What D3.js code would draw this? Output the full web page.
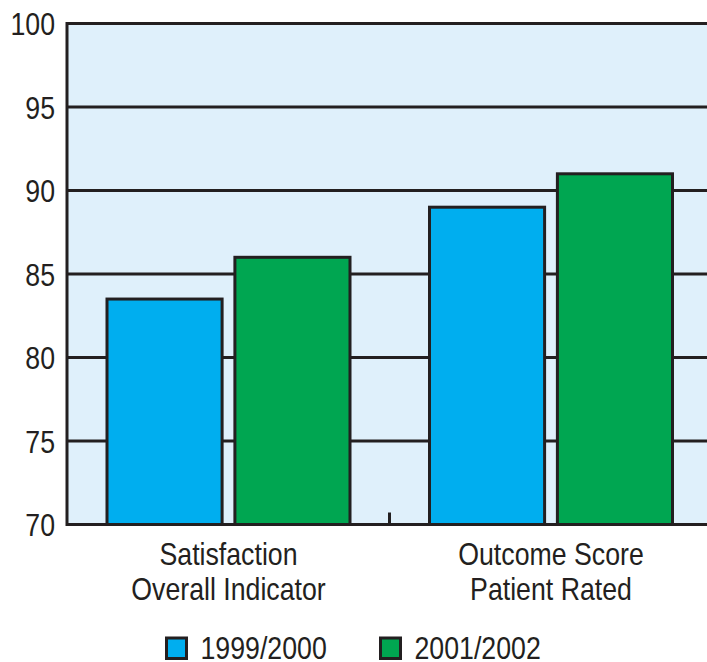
<!DOCTYPE html>
<html>
<head>
<meta charset="utf-8">
<script src="https://cdn.jsdelivr.net/npm/d3@7"></script>
<style>
  html, body { margin: 0; padding: 0; background: #fff; }
  svg { display: block; }
  text { font-family: "Liberation Sans", Arial, sans-serif; fill: #231f20; }
</style>
</head>
<body>
<svg id="chart" width="707" height="662"></svg>
<script>
const categories = [["Satisfaction", "Overall Indicator"], ["Outcome Score", "Patient Rated"]];
const categoryKeys = ["Satisfaction Overall Indicator", "Outcome Score Patient Rated"];
const seriesNames = ["1999/2000", "2001/2002"];
const series1999 = [83.5, 89];
const series2001 = [86, 91];
const yTicks = [70, 75, 80, 85, 90, 95, 100];
const colors = ["#00aeef", "#00a651"];

const svg = d3.select("#chart");
const ink = "#231f20";
const squeeze = 0.835;

const pLeft = 67, pRight = 712, pTop = 23.5, pBottom = 524.5;

const x0 = d3.scaleBand().domain(categoryKeys).range([pLeft, pRight]).padding(0);
const x1 = d3.scaleBand().domain(seriesNames).range([40, 283]).paddingInner(0.1);
const y = d3.scaleLinear().domain([70, 100]).range([pBottom, pTop]);

function label(parent, tx, ty, str, anchor) {
  return parent.append("text")
    .attr("transform", `translate(${tx},${ty}) scale(${squeeze},1)`)
    .attr("text-anchor", anchor)
    .attr("font-size", 32)
    .text(str);
}

// background
svg.append("rect")
  .attr("x", pLeft).attr("y", pTop)
  .attr("width", pRight - pLeft).attr("height", pBottom - pTop)
  .attr("fill", "#dff0fb");

// gridlines
svg.append("g").selectAll("line")
  .data(yTicks.filter(d => d > 70 && d < 100))
  .join("line")
  .attr("x1", pLeft).attr("x2", pRight)
  .attr("y1", d => y(d)).attr("y2", d => y(d))
  .attr("stroke", ink).attr("stroke-width", 3);

// bars
const data = categoryKeys.map((k, i) => ({ key: k, values: [series1999[i], series2001[i]] }));
const groups = svg.append("g").selectAll("g")
  .data(data).join("g")
  .attr("transform", d => `translate(${x0(d.key)},0)`);

groups.selectAll("rect")
  .data(d => d.values.map((v, j) => ({ s: seriesNames[j], v, j })))
  .join("rect")
  .attr("x", d => x1(d.s))
  .attr("width", x1.bandwidth())
  .attr("y", d => y(d.v))
  .attr("height", d => y(70) - y(d.v))
  .attr("fill", d => colors[d.j])
  .attr("stroke", ink).attr("stroke-width", 3);

// frame: left, top, bottom
svg.append("path")
  .attr("d", `M${pRight},${pTop}H${pLeft}V${pBottom}H${pRight}`)
  .attr("fill", "none").attr("stroke", ink).attr("stroke-width", 3);

// category divider tick
svg.append("line")
  .attr("x1", x0(categoryKeys[1])).attr("x2", x0(categoryKeys[1]))
  .attr("y1", pBottom - 12).attr("y2", pBottom)
  .attr("stroke", ink).attr("stroke-width", 3);

// y labels
const yg = svg.append("g");
yTicks.forEach(d => label(yg, 55, y(d) + 11.5, d, "end"));

// category labels
categoryKeys.forEach((k, i) => {
  const cx = x0(k) + (x1(seriesNames[0]) + x1(seriesNames[1]) + x1.bandwidth()) / 2;
  categories[i].forEach((line, li) => label(svg, cx, 565 + li * 35, line, "middle"));
});

// legend
const legendX = [166.5, 380.5];
seriesNames.forEach((s, i) => {
  svg.append("rect")
    .attr("x", legendX[i]).attr("y", 638)
    .attr("width", 20).attr("height", 20.5)
    .attr("fill", colors[i]).attr("stroke", ink).attr("stroke-width", 3);
  label(svg, legendX[i] + 34, 659, s, "start");
});
</script>
</body>
</html>
